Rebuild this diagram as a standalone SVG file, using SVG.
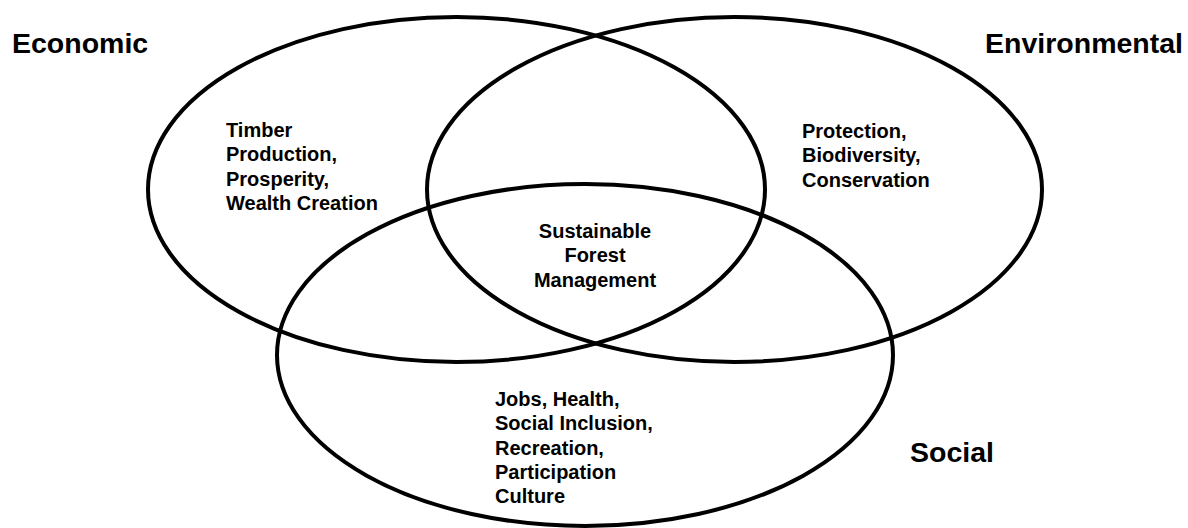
<svg xmlns="http://www.w3.org/2000/svg" width="1188" height="528" viewBox="0 0 1188 528">
<style>
.c{fill:none;stroke:#000;stroke-width:4}
.t{font-family:"Liberation Sans",Arial,sans-serif;font-weight:bold;fill:#000}
.s{font-size:20px}
.b{font-size:28.5px}
</style>
<rect width="1188" height="528" fill="#fff"/>
<g id="economic">
<ellipse class="c" cx="456.5" cy="189.5" rx="308.5" ry="172.5"/>
<text class="t b" x="12" y="53">Economic</text>
<text class="t s" x="226"><tspan x="226" y="137">Timber</tspan><tspan x="226" y="161.3">Production,</tspan><tspan x="226" y="185.6">Prosperity,</tspan><tspan x="226" y="210">Wealth Creation</tspan></text>
</g>
<g id="environmental">
<ellipse class="c" cx="734.5" cy="189.5" rx="307.5" ry="172.5"/>
<text class="t b" x="1183" y="53" text-anchor="end">Environmental</text>
<text class="t s" x="802"><tspan x="802" y="138">Protection,</tspan><tspan x="802" y="162.3">Biodiversity,</tspan><tspan x="802" y="186.6">Conservation</tspan></text>
</g>
<g id="social">
<ellipse class="c" cx="585" cy="355" rx="308" ry="171"/>
<text class="t b" x="910" y="462">Social</text>
<text class="t s" x="495"><tspan x="495" y="406">Jobs, Health,</tspan><tspan x="495" y="430.3">Social Inclusion,</tspan><tspan x="495" y="454.6">Recreation,</tspan><tspan x="495" y="479">Participation</tspan><tspan x="495" y="503.3">Culture</tspan></text>
</g>
<g id="center">
<text class="t s" text-anchor="middle"><tspan x="595" y="238">Sustainable</tspan><tspan x="595" y="262.3">Forest</tspan><tspan x="595" y="286.6">Management</tspan></text>
</g>
</svg>
